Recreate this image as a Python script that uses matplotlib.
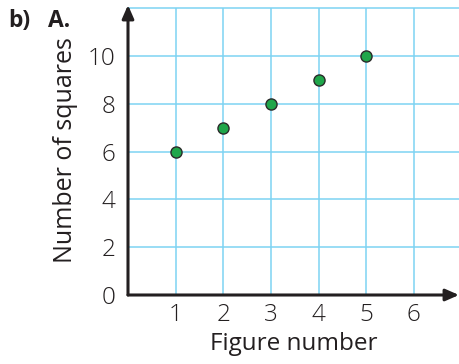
import matplotlib
matplotlib.use("Agg")
import matplotlib.pyplot as plt

figure_number = [1, 2, 3, 4, 5]
num_squares = [6, 7, 8, 9, 10]
x_ticks = [1, 2, 3, 4, 5, 6]
y_ticks = [0, 2, 4, 6, 8, 10]
grid_y = [2, 4, 6, 8, 10, 12]

plt.rcParams['font.family'] = ['Open Sans', 'DejaVu Sans']
plt.rcParams['font.weight'] = 'light'

fig = plt.figure(figsize=(4.59, 3.64), dpi=100)
ax = fig.add_axes([128/459, 69/364, 331/459, 290/364])
xmax, ymax = 6.95, 12.13
ax.set_xlim(0, xmax)
ax.set_ylim(0, ymax)

grid_c = '#7dd3f3'
ax.vlines(x_ticks, 0, 12, color=grid_c, lw=1.1, zorder=1)
ax.hlines(grid_y, 0, xmax, color=grid_c, lw=1.1, zorder=1)

for s in ax.spines.values():
    s.set_visible(False)

axis_c = '#231f20'
ax.annotate('', xy=(1.0, 0), xytext=(0, 0), xycoords='axes fraction',
            arrowprops=dict(arrowstyle='-|>,head_length=0.8,head_width=0.35',
                            color=axis_c, lw=2.2, shrinkA=0, shrinkB=0), zorder=3)
ax.annotate('', xy=(0, 1.0), xytext=(0, 0), xycoords='axes fraction',
            arrowprops=dict(arrowstyle='-|>,head_length=0.8,head_width=0.35',
                            color=axis_c, lw=2.2, shrinkA=0, shrinkB=0), zorder=3)

ax.plot(figure_number, num_squares, 'o', color='#1fa64a', markeredgecolor='#2a2a2a',
        markeredgewidth=1.0, markersize=8, zorder=4, clip_on=False)

ax.set_xticks(x_ticks)
ax.set_yticks(y_ticks)
ax.tick_params(length=0, labelsize=17.5, colors='#231f20', pad=6)
ax.tick_params(axis='y', pad=9)

ax.set_xlabel('Figure number', fontsize=17.5, color='#231f20', labelpad=3)
ax.set_ylabel('Number of squares', fontsize=18, color='#231f20', labelpad=7)

fig.text(8/459, 1 - 21/364, 'b)', fontsize=16.5, fontweight='bold', color='#231f20', va='center')
fig.text(48/459, 1 - 21/364, 'A.', fontsize=16.5, fontweight='bold', color='#231f20', va='center')

fig.savefig('out.png', dpi=100)
